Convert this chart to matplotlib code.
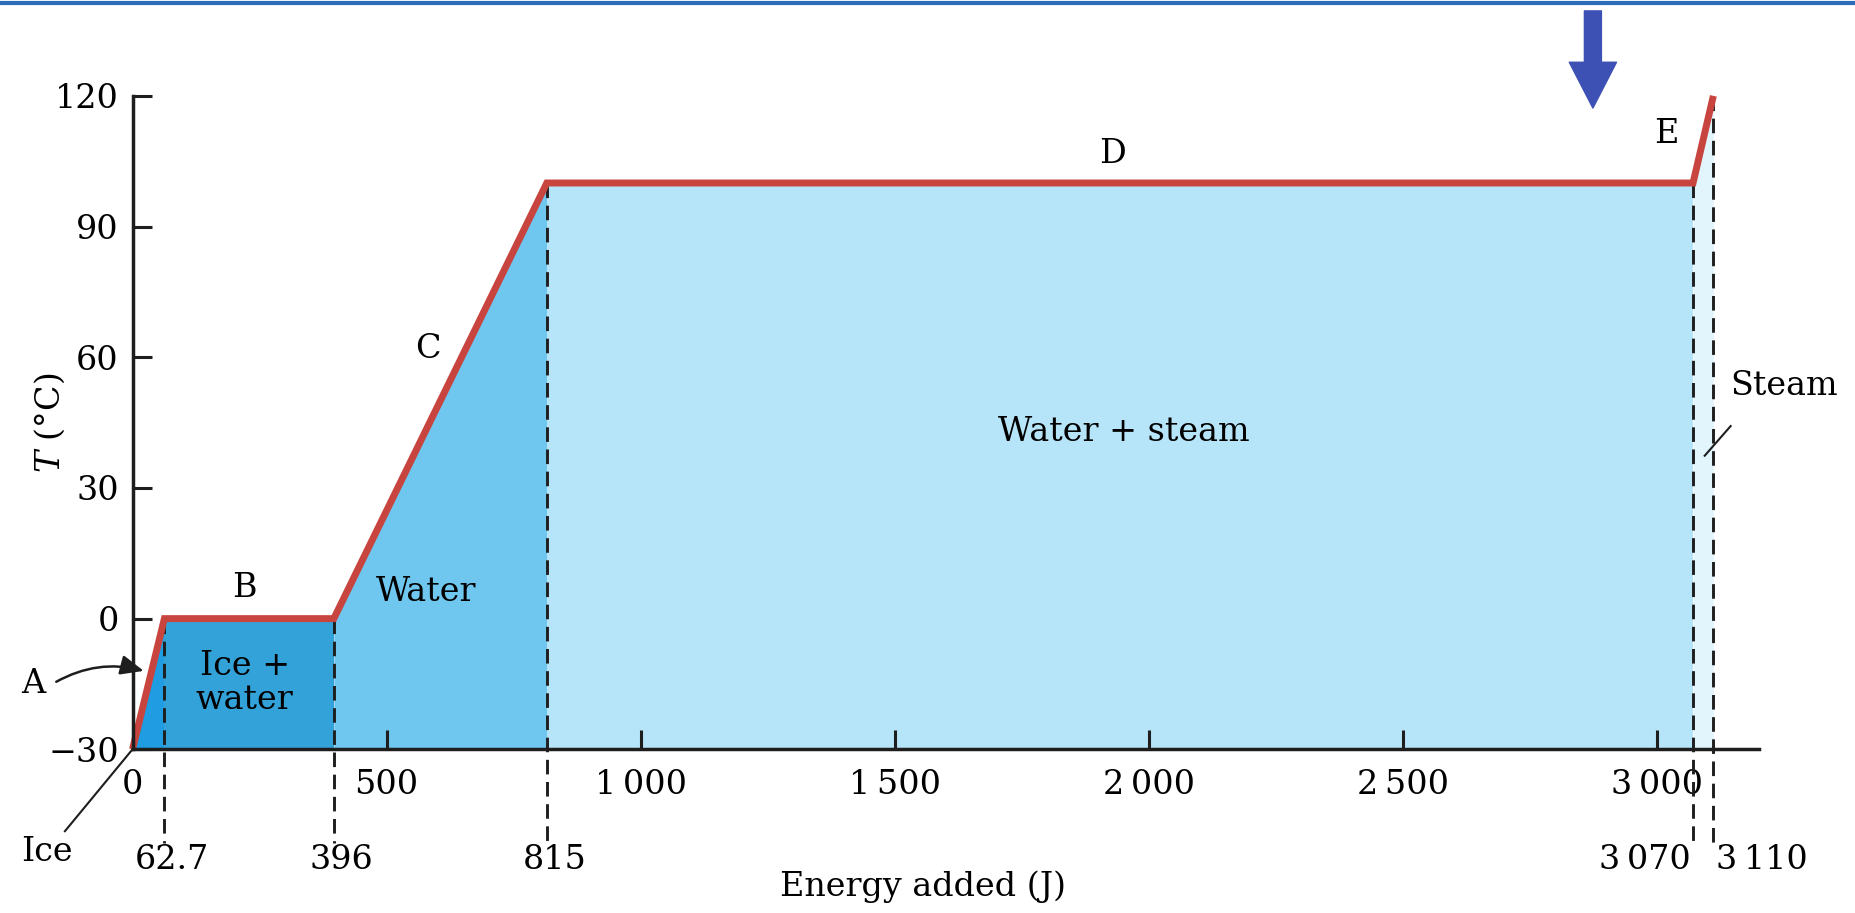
import numpy as np
import matplotlib
matplotlib.use('Agg')
import matplotlib.pyplot as plt
from matplotlib.lines import Line2D

plt.rcParams['font.family'] = ['DejaVu Serif']
plt.rcParams['mathtext.fontset'] = 'dejavuserif'

# heating curve of 1 g of ice from -30 C to steam at 120 C
energy = [0, 62.7, 396, 815, 3070, 3110]      # J
temp = [-30, 0, 0, 100, 100, 120]             # deg C
phase_names = ['Ice', 'Ice +\nwater', 'Water', 'Water + steam', 'Steam']
phase_colors = ['#1f9ce2', '#33a2d9', '#6fc6ef', '#b6e4f8', '#e3f5fc']
segment_letters = ['A', 'B', 'C', 'D', 'E']

x_ticks = [0, 500, 1000, 1500, 2000, 2500, 3000]
x_ticklabels = ['0', '500', '1\u2009000', '1\u2009500', '2\u2009000', '2\u2009500', '3\u2009000']
y_ticks = [-30, 0, 30, 60, 90, 120]
y_ticklabels = ['\u221230', '0', '30', '60', '90', '120']

red = '#c8453f'
ink = '#1e1e1e'
fs = 24

fig = plt.figure(figsize=(18.56, 9.13), dpi=100)
ax = fig.add_axes([0.0714, 0.1793, 0.8764, 0.7157])

# coloured phase regions under the curve
for i in range(len(energy) - 1):
    ax.fill_between(energy[i:i + 2], temp[i:i + 2], -30, color=phase_colors[i], lw=0, zorder=1)

# dashed markers at the phase boundaries
for e, t in zip(energy[1:], temp[1:]):
    ax.plot([e, e], [t, -51.5], color=ink, lw=2.1, dashes=(5, 2.6), clip_on=False, zorder=2)

ax.plot(energy, temp, color=red, lw=5, solid_joinstyle='miter', solid_capstyle='butt',
        clip_on=False, zorder=3)

ax.set_xlim(0, 3200)
ax.set_ylim(-30, 120)
ax.spines['top'].set_visible(False)
ax.spines['right'].set_visible(False)
for s in ['left', 'bottom']:
    ax.spines[s].set_linewidth(2.5)
    ax.spines[s].set_color(ink)
    ax.spines[s].set_zorder(4)

ax.set_xticks(x_ticks)
ax.set_xticklabels(x_ticklabels, fontsize=fs)
ax.set_yticks(y_ticks)
ax.set_yticklabels(y_ticklabels, fontsize=fs)
ax.tick_params(axis='both', direction='in', length=14, width=2.2, color=ink)
ax.tick_params(axis='x', pad=14)
ax.tick_params(axis='y', pad=10)

ax.set_ylabel(r'$T$ (°C)', fontsize=fs)
ax.yaxis.set_label_coords(-0.040, 0.5)
ax.text(1556, -61.5, 'Energy added (J)', fontsize=fs, ha='center', va='center', clip_on=False)

# boundary values below the axis
lab_y = -55.5
ax.text(energy[1] + 15, lab_y, '62.7', fontsize=fs, ha='center', va='center')
ax.text(energy[2] + 15, lab_y, '396', fontsize=fs, ha='center', va='center')
ax.text(energy[3] + 15, lab_y, '815', fontsize=fs, ha='center', va='center')
ax.text(energy[4] - 5, lab_y, '3\u2009070', fontsize=fs, ha='right', va='center')
ax.text(energy[5] + 5, lab_y, '3\u2009110', fontsize=fs, ha='left', va='center')

# segment letters
ax.text(-195, -15, segment_letters[0], fontsize=fs, ha='center', va='center')
ax.annotate('', xy=(22, -12.0), xytext=(-150, -14.5),
            arrowprops=dict(arrowstyle='-|>,head_length=0.7,head_width=0.3', color=ink, lw=1.8,
                            connectionstyle='arc3,rad=-0.2', mutation_scale=20,
                            shrinkA=0, shrinkB=0), annotation_clip=False)
ax.text(221, 7, segment_letters[1], fontsize=fs, ha='center', va='center')
ax.text(582, 61.8, segment_letters[2], fontsize=fs, ha='center', va='center')
ax.text(1928, 106.7, segment_letters[3], fontsize=fs, ha='center', va='center')
ax.text(3018, 111.3, segment_letters[4], fontsize=fs, ha='center', va='center')

# phase names
ax.text(221, -14.8, phase_names[1], fontsize=fs, ha='center', va='center', linespacing=1.05)
ax.text(577, 6.1, phase_names[2], fontsize=fs, ha='center', va='center')
ax.text(1951, 42.8, phase_names[3], fontsize=fs, ha='center', va='center')
ax.text(3144, 53.4, phase_names[4], fontsize=fs, ha='left', va='center', clip_on=False)
ax.plot([3093, 3144], [37.4, 44.2], color=ink, lw=1.5, clip_on=False, zorder=5)
ax.text(-168, -53.6, phase_names[0], fontsize=fs, ha='center', va='center')
ax.plot([-133, 0], [-48.8, -30], color=ink, lw=1.5, clip_on=False, zorder=5)

# blue marker arrow at the top
ax.annotate('', xy=(2873, 117.2), xytext=(2873, 139.5),
            arrowprops=dict(arrowstyle='simple,head_width=1.0,head_length=0.97,tail_width=0.36',
                            color='#3d50b4', mutation_scale=34, shrinkA=0, shrinkB=0),
            annotation_clip=False)

# thin blue rule along the top edge
fig.add_artist(Line2D([0, 1], [0.997, 0.997], color='#2a6cb8', lw=3, transform=fig.transFigure))

fig.savefig('out.png', dpi=100)
